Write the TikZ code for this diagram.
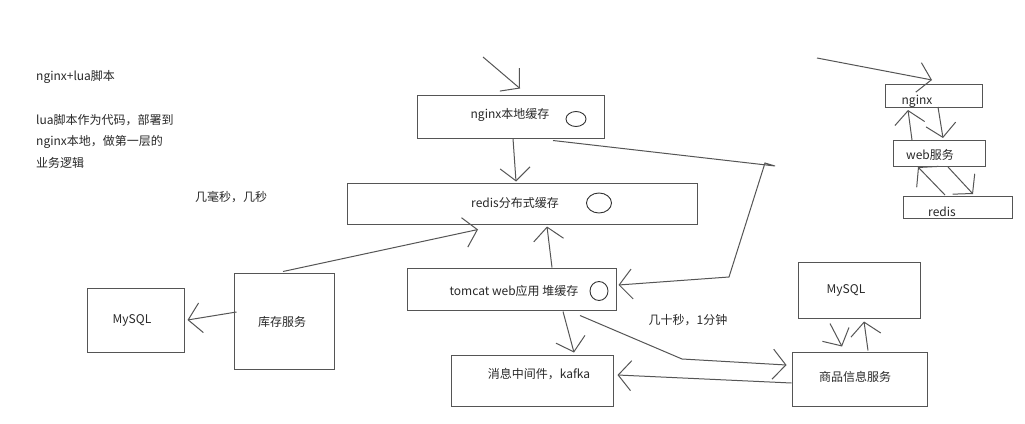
\documentclass[tikz,border=0pt]{standalone}
\usepackage{fontspec}
\setmainfont{Noto Sans CJK SC}
\usetikzlibrary{arrows.meta,calc,shapes.geometric}
\definecolor{linec}{RGB}{85,85,85}
\definecolor{textc}{RGB}{40,40,40}
\tikzset{
  box/.style={draw=linec, line width=1pt, rectangle, inner sep=0pt},
  lbl/.style={text=textc, font=\fontsize{12}{14}\selectfont, inner sep=0pt},
  ring/.style={draw=black!80, line width=0.9pt, ellipse, inner sep=0pt},
  arr/.style={draw=linec, line width=1pt, -{Straight Barb[length=13pt,width=30pt,line width=1pt]}},
  plain/.style={draw=linec, line width=1pt}
}
\begin{document}
\begin{tikzpicture}[x=1pt,y=-1pt]
\useasboundingbox (0,0) rectangle (1025,423);
\fill[white] (0,0) rectangle (1025,423);

% side notes
\node[lbl, anchor=west] (t1) at (36,77) {nginx+lua脚本};
\node[lbl, anchor=west] (t2) at (36,120) {lua脚本作为代码，部署到};
\node[lbl, anchor=west] (t3) at (36,142) {nginx本地，做第一层的};
\node[lbl, anchor=west] (t4) at (36,163) {业务逻辑};
\node[lbl] (t5) at (231,197) {几毫秒，几秒};
\node[lbl] (t6) at (688,320) {几十秒，1分钟};

% main boxes
\node[box, minimum width=187pt, minimum height=43pt] (nlc) at (510.5,116.5) {};
\node[lbl] (nlct) at (510,115) {nginx本地缓存};
\node[ring, minimum width=20pt, minimum height=15pt] (nlcc) at (576,119) {};

\node[box, minimum width=350pt, minimum height=41pt] (rds) at (522,203.5) {};
\node[lbl] (rdst) at (515,203) {redis分布式缓存};
\node[ring, minimum width=25pt, minimum height=20pt] (rdsc) at (599,203) {};

\node[box, minimum width=209pt, minimum height=42pt] (tom) at (511.5,289) {};
\node[lbl] (tomt) at (514,291) {tomcat web应用 堆缓存};
\node[ring, minimum width=18pt, minimum height=19pt] (tomc) at (599,291) {};

\node[box, minimum width=162pt, minimum height=51pt] (kfk) at (532,380.5) {};
\node[lbl] (kfkt) at (539,374) {消息中间件，kafka};

\node[box, minimum width=97pt, minimum height=64pt] (my1) at (135.5,320) {};
\node[lbl] (my1t) at (132,320) {MySQL};

\node[box, minimum width=100pt, minimum height=96pt] (kc) at (284,321) {};
\node[lbl] (kct) at (282,322) {库存服务};

\node[box, minimum width=122pt, minimum height=56pt] (my2) at (859,290) {};
\node[lbl] (my2t) at (846,290) {MySQL};

\node[box, minimum width=135pt, minimum height=54pt] (sp) at (859.5,379) {};
\node[lbl] (spt) at (855,377) {商品信息服务};

% right cluster
\node[box, minimum width=97pt, minimum height=23pt] (ngx) at (933.5,96) {};
\node[lbl] (ngxt) at (917,101) {nginx};
\node[box, minimum width=92pt, minimum height=26pt] (web) at (939,153.5) {};
\node[lbl] (webt) at (930,155) {web服务};
\node[box, minimum width=109pt, minimum height=22pt] (rd2) at (957.5,207.5) {};
\node[lbl] (rd2t) at (942,212) {redis};

% free ends and bends
\coordinate (in1) at (483,57);
\coordinate (in2) at (817,58);
\coordinate (b0) at (775,166);
\coordinate (b1) at (765,163);
\coordinate (b2) at (729,277);
\coordinate (b3) at (682,359);

% connectors
\draw[arr] (in1) -- ($(nlc.north)+(9.5,-6)$);
\draw[arr] ($(nlc.south)+(2.5,0)$) -- ($(rds.north)+(-6,-1)$);
\draw[arr] ($(nlc.south)+(42.5,2)$) -- (b0) -- (b1) -- (b2) -- ($(tom.east)+(2,-4)$);
\draw[arr] ($(tom.north)+(40.5,0)$) -- ($(rds.south)+(25,2)$);
\draw[arr] ($(kc.north)+(-1,-1)$) -- ($(rds.south)+(-44,5)$);
\draw[arr] ($(kc.west)+(3,-9)$) -- ($(my1.east)+(3,0)$);
\draw[arr] ($(tom.south)+(51.5,1)$) -- ($(kfk.north)+(42,-2)$);
\draw[arr] ($(tom.south)+(68.5,5)$) -- (b3) -- ($(sp.west)+(-5,-14)$);
\draw[arr] ($(sp.west)+(0,4)$) -- ($(kfk.east)+(4,-5.5)$);
\draw[arr] ($(my2.south)+(-29,5)$) -- ($(sp.north)+(-17.5,-5)$);
\draw[arr] ($(sp.north)+(8.5,-1)$) -- ($(my2.south)+(5,3)$);

\draw[arr] (in2) -- ($(ngx.north)+(-1.5,-4)$);
\draw[arr] ($(ngx.south)+(4.5,-1)$) -- ($(web.north)+(4,-2)$);
\draw[arr] ($(web.north)+(-27,0)$) -- ($(ngx.south)+(-25.5,2)$);
\draw[arr] ($(web.south)+(9,0)$) -- ($(rd2.north)+(15.5,-2)$);
\draw[arr] ($(rd2.north)+(-12.5,-1)$) -- ($(web.south)+(-21,0)$);
\end{tikzpicture}
\end{document}
